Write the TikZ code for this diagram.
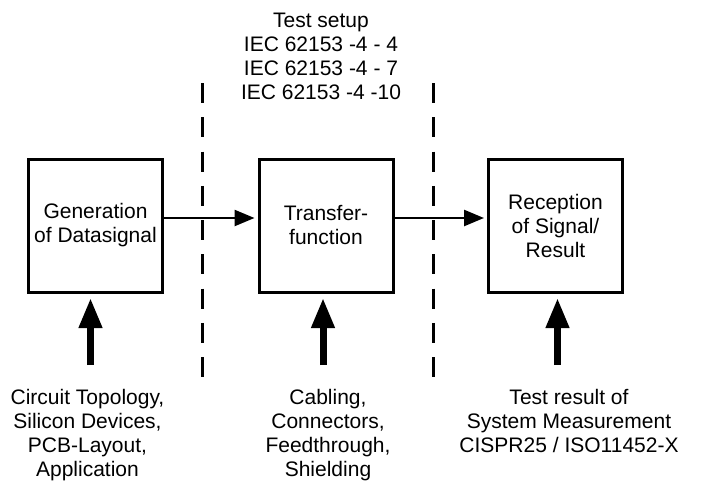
\documentclass[tikz,border=0pt]{standalone}
\usepackage{fontspec}
\setmainfont{Liberation Sans}
\usetikzlibrary{arrows.meta,calc}
\begin{document}
\begin{tikzpicture}[x=1pt,y=-1pt,
  txt/.style={font=\fontsize{21}{24}\selectfont, align=center, inner sep=0pt, text=black},
  blockbox/.style={draw=black, line width=3pt, minimum width=134pt, minimum height=133pt, inner sep=0pt, font=\fontsize{21}{24}\selectfont, align=center},
  flowarrow/.style={line width=2.5pt, -{Triangle[length=20pt,width=16pt]}, shorten >=3pt},
  bigarrow/.style={line width=7pt, -{Triangle[length=30pt,width=22pt]}},
  divider/.style={line width=3pt, dash pattern=on 20pt off 14.25pt}
]
\useasboundingbox[fill=white] (0,0) rectangle (709,487);

% boxes
\node[blockbox] (b1) at (95.5,225.5) {Generation\\of Datasignal};
\node[blockbox] (b2) at (326,225.5) {Transfer-\\function};
\node[blockbox] (b3) at (555.5,225.5) {Reception\\of Signal/\\Result};

% header text
\node[txt, anchor=north] (hdr) at (321,13) {Test setup\\IEC 62153 -4 - 4\\IEC 62153 -4 - 7\\IEC 62153 -4 -10};

% dashed dividers
\coordinate (d1t) at (202,83);
\coordinate (d1b) at (202,377);
\coordinate (d2t) at (433,83);
\coordinate (d2b) at (433,377);
\draw[divider] (d1t) -- (d1b);
\draw[divider] (d2t) -- (d2b);

% flow arrows
\draw[flowarrow] ([yshift=7.5pt]b1.east) -- ([yshift=7.5pt]b2.west);
\draw[flowarrow] ([yshift=7.5pt]b2.east) -- ([yshift=7.5pt]b3.west);

% bottom labels
\node[txt, anchor=north] (l1) at (87.5,389) {Circuit Topology,\\Silicon Devices,\\PCB-Layout,\\Application};
\node[txt, anchor=north] (l2) at (328,389) {Cabling,\\Connectors,\\Feedthrough,\\Shielding};
\node[txt, anchor=north] (l3) at (569,389) {Test result of\\System Measurement\\CISPR25 / ISO11452-X};

% input arrows
\coordinate (a1) at (90.5,365);
\coordinate (a2) at (323,365);
\coordinate (a3) at (557.5,365);
\draw[bigarrow] (a1) -- ([yshift=-4.5pt]b1.south -| a1);
\draw[bigarrow] (a2) -- ([yshift=-4.5pt]b2.south -| a2);
\draw[bigarrow] (a3) -- ([yshift=-4.5pt]b3.south -| a3);
\end{tikzpicture}
\end{document}
